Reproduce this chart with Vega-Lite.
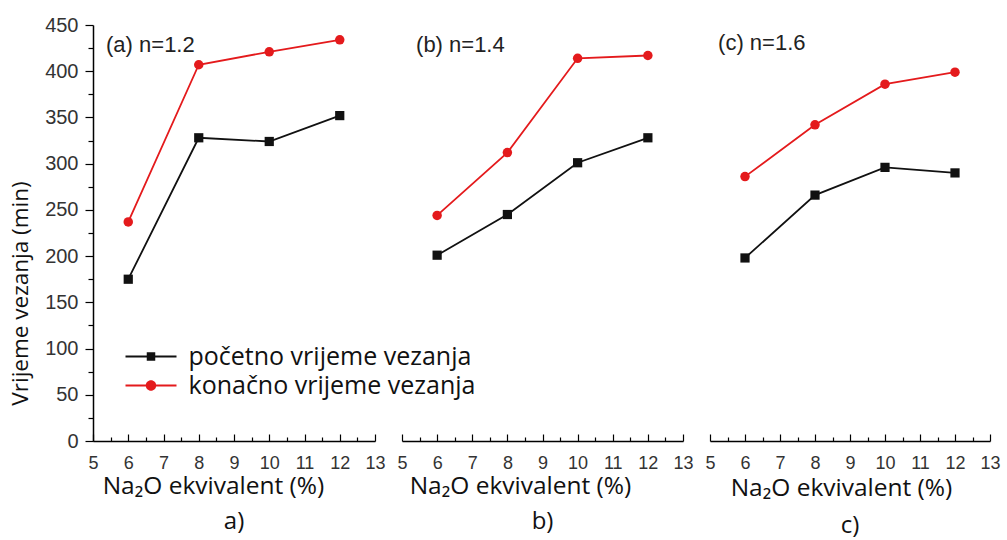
{
  "$schema": "https://vega.github.io/schema/vega-lite/v6.json",
  "padding": {"left": 9, "top": 15, "right": 5, "bottom": 5},
  "background": "white",
  "datasets": {
    "d": [
      {"panel": "a", "x": 6, "y": 175, "series": "početno vrijeme vezanja"},
      {"panel": "a", "x": 8, "y": 328, "series": "početno vrijeme vezanja"},
      {"panel": "a", "x": 10, "y": 324, "series": "početno vrijeme vezanja"},
      {"panel": "a", "x": 12, "y": 352, "series": "početno vrijeme vezanja"},
      {"panel": "a", "x": 6, "y": 237, "series": "konačno vrijeme vezanja"},
      {"panel": "a", "x": 8, "y": 407, "series": "konačno vrijeme vezanja"},
      {"panel": "a", "x": 10, "y": 421, "series": "konačno vrijeme vezanja"},
      {"panel": "a", "x": 12, "y": 434, "series": "konačno vrijeme vezanja"},
      {"panel": "b", "x": 6, "y": 201, "series": "početno vrijeme vezanja"},
      {"panel": "b", "x": 8, "y": 245, "series": "početno vrijeme vezanja"},
      {"panel": "b", "x": 10, "y": 301, "series": "početno vrijeme vezanja"},
      {"panel": "b", "x": 12, "y": 328, "series": "početno vrijeme vezanja"},
      {"panel": "b", "x": 6, "y": 244, "series": "konačno vrijeme vezanja"},
      {"panel": "b", "x": 8, "y": 312, "series": "konačno vrijeme vezanja"},
      {"panel": "b", "x": 10, "y": 414, "series": "konačno vrijeme vezanja"},
      {"panel": "b", "x": 12, "y": 417, "series": "konačno vrijeme vezanja"},
      {"panel": "c", "x": 6, "y": 198, "series": "početno vrijeme vezanja"},
      {"panel": "c", "x": 8, "y": 266, "series": "početno vrijeme vezanja"},
      {"panel": "c", "x": 10, "y": 296, "series": "početno vrijeme vezanja"},
      {"panel": "c", "x": 12, "y": 290, "series": "početno vrijeme vezanja"},
      {"panel": "c", "x": 6, "y": 286, "series": "konačno vrijeme vezanja"},
      {"panel": "c", "x": 8, "y": 342, "series": "konačno vrijeme vezanja"},
      {"panel": "c", "x": 10, "y": 386, "series": "konačno vrijeme vezanja"},
      {"panel": "c", "x": 12, "y": 399, "series": "konačno vrijeme vezanja"}
    ]
  },
  "spacing": 27,
  "bounds": "flush",
  "resolve": {"legend": {"color": "independent", "shape": "independent"}},
  "hconcat": [
    {
      "width": 282,
      "height": 416,
      "title": {"text": "a)", "orient": "bottom", "anchor": "middle", "frame": "group", "offset": 12},
      "encoding": {
        "x": {"field": "x", "type": "quantitative", "scale": {"domain": [5, 13], "nice": false, "zero": false},
          "axis": {"values": [5, 5.5, 6, 6.5, 7, 7.5, 8, 8.5, 9, 9.5, 10, 10.5, 11, 11.5, 12, 12.5, 13],
            "labelExpr": "datum.value % 1 === 0 ? format(datum.value, 'd') : ''",
            "tickSize": {"condition": {"test": "datum.value % 1 === 0", "value": -7}, "value": -4},
            "labelPadding": 20, "labelOverlap": false, "labelFlush": false, "labelBound": false,
            "title": "Na₂O ekvivalent (%)", "titleFontSize": 24.5, "titleX": 120, "titleY": 45, "titleBaseline": "middle"}},
        "y": {"field": "y", "type": "quantitative", "scale": {"domain": [0, 450], "nice": false},
          "axis": {"values": [0, 25, 50, 75, 100, 125, 150, 175, 200, 225, 250, 275, 300, 325, 350, 375, 400, 425, 450],
            "labelExpr": "datum.value % 50 === 0 ? datum.label : ''",
            "tickSize": {"condition": {"test": "datum.value % 50 === 0", "value": 8}, "value": 5},
            "labelPadding": 7, "labelFontSize": 20, "labelOverlap": false, "labelFlush": false, "labelBound": false,
            "title": "Vrijeme vezanja  (min)", "titleFontSize": 22.5, "titleX": -73, "titleY": 268, "titleBaseline": "middle", "titleAngle": -90}}
      },
      "layer": [
        {"data": {"name": "d"}, "transform": [{"filter": "datum.panel === 'a'"}],
          "mark": {"type": "line", "strokeWidth": 1.8},
          "encoding": {"color": {"field": "series", "type": "nominal",
            "scale": {"domain": ["početno vrijeme vezanja", "konačno vrijeme vezanja"], "range": ["#111111", "#e41a1c"]},
            "legend": {"orient": "none", "legendX": 45.5, "legendY": 319, "title": null, "symbolSize": 100, "symbolOpacity": 1, "symbolStrokeWidth": 0,
              "labelFont": "Open Sans", "labelFontSize": 25, "labelColor": "#111", "labelOffset": 25, "rowPadding": 3,
              "padding": 0, "labelLimit": 400}}}},
        {"data": {"name": "d"}, "transform": [{"filter": "datum.panel === 'a' && datum.series === 'početno vrijeme vezanja'"}],
          "mark": {"type": "point", "shape": "square", "filled": true, "size": 85, "opacity": 1, "color": "#111111"}},
        {"data": {"name": "d"}, "transform": [{"filter": "datum.panel === 'a' && datum.series === 'konačno vrijeme vezanja'"}],
          "mark": {"type": "point", "shape": "circle", "filled": true, "size": 90, "opacity": 1, "color": "#e41a1c"}},
        {"data": {"name": "d"}, "transform": [{"filter": "datum.panel === 'a'"}],
          "mark": {"type": "point", "filled": true, "opacity": 0},
          "encoding": {
            "color": {"field": "series", "type": "nominal",
              "scale": {"domain": ["početno vrijeme vezanja", "konačno vrijeme vezanja"], "range": ["#111111", "#e41a1c"]}},
            "shape": {"field": "series", "type": "nominal",
              "scale": {"domain": ["početno vrijeme vezanja", "konačno vrijeme vezanja"],
                "range": ["M-5.1,-0.2H5.1V0.2H-5.1Z M-0.85,-0.85H0.85V0.85H-0.85Z", "M-5.1,-0.2H5.1V0.2H-5.1Z M-1.05,0A1.05,1.05 0 1,1 1.05,0A1.05,1.05 0 1,1 -1.05,0Z"]},
              "legend": {"orient": "none", "legendX": 45.5, "legendY": 319, "title": null, "symbolSize": 100, "symbolOpacity": 1, "symbolStrokeWidth": 0,
                "labelFont": "Open Sans", "labelFontSize": 25, "labelColor": "#111", "labelOffset": 25, "rowPadding": 3,
                "padding": 0, "labelLimit": 400}}}},
        {"data": {"name": "d"}, "transform": [{"filter": "datum.panel === 'a' && datum.x === 6 && datum.series === 'početno vrijeme vezanja'"}],
          "mark": {"type": "text", "font": "Liberation Sans", "fontSize": 22, "fontWeight": "normal", "align": "left", "baseline": "middle", "color": "#222"},
          "encoding": {"x": {"datum": 5.37}, "y": {"datum": 428}, "text": {"value": "(a) n=1.2"}}}
      ]
    },
    {
      "width": 281,
      "height": 416,
      "title": {"text": "b)", "orient": "bottom", "anchor": "middle", "frame": "group", "offset": 12},
      "encoding": {
        "x": {"field": "x", "type": "quantitative", "scale": {"domain": [5, 13], "nice": false, "zero": false},
          "axis": {"values": [5, 5.5, 6, 6.5, 7, 7.5, 8, 8.5, 9, 9.5, 10, 10.5, 11, 11.5, 12, 12.5, 13],
            "labelExpr": "datum.value % 1 === 0 ? format(datum.value, 'd') : ''",
            "tickSize": {"condition": {"test": "datum.value % 1 === 0", "value": -7}, "value": -4},
            "labelPadding": 20, "labelOverlap": false, "labelFlush": false, "labelBound": false,
            "title": "Na₂O ekvivalent (%)", "titleFontSize": 24.5, "titleX": 118, "titleY": 45, "titleBaseline": "middle"}},
        "y": {"field": "y", "type": "quantitative", "scale": {"domain": [0, 450], "nice": false}, "axis": null}
      },
      "layer": [
        {"data": {"name": "d"}, "transform": [{"filter": "datum.panel === 'b'"}],
          "mark": {"type": "line", "strokeWidth": 1.8},
          "encoding": {"color": {"field": "series", "type": "nominal",
            "scale": {"domain": ["početno vrijeme vezanja", "konačno vrijeme vezanja"], "range": ["#111111", "#e41a1c"]}, "legend": null}}},
        {"data": {"name": "d"}, "transform": [{"filter": "datum.panel === 'b' && datum.series === 'početno vrijeme vezanja'"}],
          "mark": {"type": "point", "shape": "square", "filled": true, "size": 85, "opacity": 1, "color": "#111111"}},
        {"data": {"name": "d"}, "transform": [{"filter": "datum.panel === 'b' && datum.series === 'konačno vrijeme vezanja'"}],
          "mark": {"type": "point", "shape": "circle", "filled": true, "size": 90, "opacity": 1, "color": "#e41a1c"}},
        {"data": {"name": "d"}, "transform": [{"filter": "datum.panel === 'b' && datum.x === 6 && datum.series === 'početno vrijeme vezanja'"}],
          "mark": {"type": "text", "font": "Liberation Sans", "fontSize": 22, "fontWeight": "normal", "align": "left", "baseline": "middle", "color": "#222"},
          "encoding": {"x": {"datum": 5.4}, "y": {"datum": 428}, "text": {"value": "(b) n=1.4"}}}
      ]
    },
    {
      "width": 280,
      "height": 416,
      "title": {"text": "c)", "orient": "bottom", "anchor": "middle", "frame": "group", "offset": 14},
      "encoding": {
        "x": {"field": "x", "type": "quantitative", "scale": {"domain": [5, 13], "nice": false, "zero": false},
          "axis": {"values": [5, 5.5, 6, 6.5, 7, 7.5, 8, 8.5, 9, 9.5, 10, 10.5, 11, 11.5, 12, 12.5, 13],
            "labelExpr": "datum.value % 1 === 0 ? format(datum.value, 'd') : ''",
            "tickSize": {"condition": {"test": "datum.value % 1 === 0", "value": -7}, "value": -4},
            "labelPadding": 20, "labelOverlap": false, "labelFlush": false, "labelBound": false,
            "title": "Na₂O ekvivalent (%)", "titleFontSize": 24.5, "titleX": 131, "titleY": 47, "titleBaseline": "middle"}},
        "y": {"field": "y", "type": "quantitative", "scale": {"domain": [0, 450], "nice": false}, "axis": null}
      },
      "layer": [
        {"data": {"name": "d"}, "transform": [{"filter": "datum.panel === 'c'"}],
          "mark": {"type": "line", "strokeWidth": 1.8},
          "encoding": {"color": {"field": "series", "type": "nominal",
            "scale": {"domain": ["početno vrijeme vezanja", "konačno vrijeme vezanja"], "range": ["#111111", "#e41a1c"]}, "legend": null}}},
        {"data": {"name": "d"}, "transform": [{"filter": "datum.panel === 'c' && datum.series === 'početno vrijeme vezanja'"}],
          "mark": {"type": "point", "shape": "square", "filled": true, "size": 85, "opacity": 1, "color": "#111111"}},
        {"data": {"name": "d"}, "transform": [{"filter": "datum.panel === 'c' && datum.series === 'konačno vrijeme vezanja'"}],
          "mark": {"type": "point", "shape": "circle", "filled": true, "size": 90, "opacity": 1, "color": "#e41a1c"}},
        {"data": {"name": "d"}, "transform": [{"filter": "datum.panel === 'c' && datum.x === 6 && datum.series === 'početno vrijeme vezanja'"}],
          "mark": {"type": "text", "font": "Liberation Sans", "fontSize": 22, "fontWeight": "normal", "align": "left", "baseline": "middle", "color": "#222"},
          "encoding": {"x": {"datum": 5.23}, "y": {"datum": 431}, "text": {"value": "(c) n=1.6"}}}
      ]
    }
  ],
  "config": {
    "view": {"stroke": null},
    "axis": {"domainColor": "#000", "domainWidth": 1.5, "tickColor": "#000", "tickWidth": 1.2, "labelFont": "Liberation Sans", "labelFontSize": 18, "labelColor": "#333", "titleFont": "Open Sans", "titleFontWeight": "normal", "titleColor": "#111", "grid": false},
    "title": {"font": "Open Sans", "fontSize": 24, "fontWeight": "normal", "color": "#111"}
  }
}
